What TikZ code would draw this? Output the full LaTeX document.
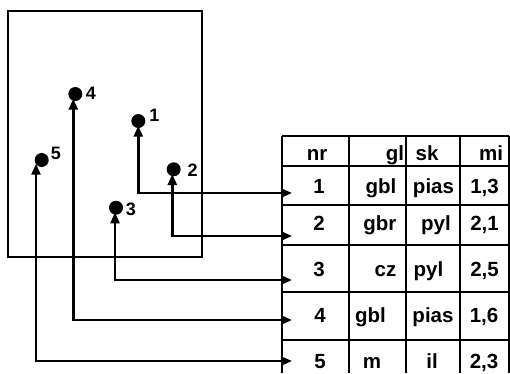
\documentclass[tikz,border=0pt]{standalone}
\usepackage{fontspec}
\setmainfont{Liberation Sans}
\usetikzlibrary{arrows.meta}
\tikzset{
  dot/.style={circle, fill=black, inner sep=0pt, minimum size=14pt},
  lbl/.style={font=\bfseries\fontsize{18}{18}\selectfont, inner sep=0pt, anchor=base},
  cell/.style={font=\bfseries\fontsize{20.5}{20.5}\selectfont, inner sep=0pt, anchor=base},
  grid/.style={line width=2.6pt},
  frame/.style={line width=2pt},
  link/.style={line width=2.5pt, {Triangle[length=11pt,width=9pt]}-{Triangle[length=11pt,width=9pt]}},
}
\begin{document}
\begin{tikzpicture}[x=1pt, y=-1pt]
  \useasboundingbox (0,0) rectangle (510,373);

  % map frame
  \draw[frame] (8.3,10.7) rectangle (201.7,256.7);

  % points
  \node[dot] (d1) at (138.3,121) {};
  \node[dot] (d2) at (173.7,169.3) {};
  \node[dot] (d3) at (116,207.7) {};
  \node[dot] (d4) at (75.3,94) {};
  \node[dot] (d5) at (41.7,160) {};
  \node[lbl] (l1) at (154.3,121.7) {1};
  \node[lbl] (l2) at (192.7,176) {2};
  \node[lbl] (l3) at (131,215) {3};
  \node[lbl] (l4) at (91,99.3) {4};
  \node[lbl] (l5) at (56,159.3) {5};

  % table grid
  \draw[grid] (282,136) -- (509,136);
  \foreach \y in {166,205,245,292,340} \draw[grid] (282,\y) -- (509,\y);
  \foreach \x in {282,349,406,460,509} \draw[grid] (\x,136) -- (\x,373);

  % header
  \node[cell] (hnr) at (317,160.6) {nr};
  \node[cell] (hgl) at (395,160.6) {gl};
  \node[cell] (hsk) at (427,160.6) {sk};
  \node[cell] (hmi) at (491,160.6) {mi};
  % rows
  \node[cell] (nr1) at (319,193.3) {1};
  \node[cell, anchor=base east] (gl1) at (396.5,193.3) {gbl};
  \node[cell] (sk1) at (433.5,193.3) {pias};
  \node[cell] (mi1) at (484.5,193.3) {1,3};

  \node[cell] (nr2) at (319,230) {2};
  \node[cell, anchor=base east] (gl2) at (396.5,230) {gbr};
  \node[cell] (sk2) at (436,230) {pyl};
  \node[cell] (mi2) at (484.5,230) {2,1};

  \node[cell] (nr3) at (319,276.7) {3};
  \node[cell, anchor=base east] (gl3) at (396.5,276.7) {cz};
  \node[cell] (sk3) at (428.5,276.7) {pyl};
  \node[cell] (mi3) at (484.5,276.7) {2,5};

  \node[cell] (nr4) at (320,322.7) {4};
  \node[cell] (gl4) at (370.5,322.7) {gbl};
  \node[cell] (sk4) at (433,322.7) {pias};
  \node[cell] (mi4) at (484,322.7) {1,6};

  \node[cell] (nr5) at (320,368.3) {5};
  \node[cell] (gl5) at (372,368.3) {m};
  \node[cell] (sk5) at (432,368.3) {il};
  \node[cell] (mi5) at (484,368.3) {2,3};

  % row entry points on the table's left edge
  \coordinate (r1) at (292,193);
  \coordinate (r2) at (292,236);
  \coordinate (r3) at (292,280);
  \coordinate (r4) at (292,320);
  \coordinate (r5) at (292,361);

  % links from points to rows
  \draw[link] ([shift={(0,-2.5)}]d1.south) |- (r1);
  \draw[link] ([shift={(-1.4,-2.5)}]d2.south) |- (r2);
  \draw[link] ([shift={(-1,-2.5)}]d3.south) |- (r3);
  \draw[link] ([shift={(-2,-2.5)}]d4.south) |- (r4);
  \draw[link] ([shift={(-5.7,-3.5)}]d5.south) |- (r5);
\end{tikzpicture}
\end{document}
